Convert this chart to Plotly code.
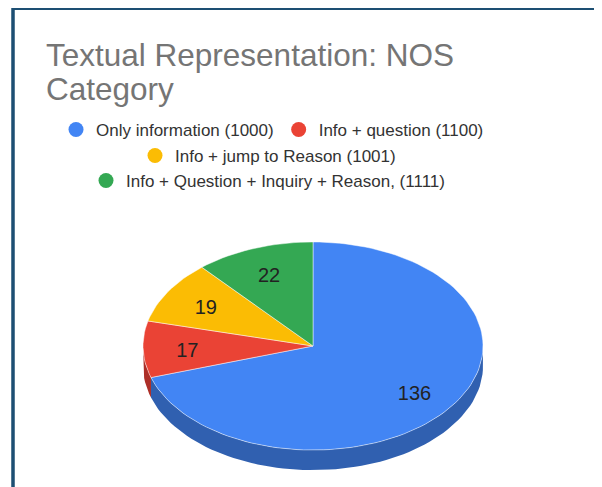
import numpy as np
import plotly.graph_objects as go

# ---- data ----
labels = [
    "Only information (1000)",
    "Info + question (1100)",
    "Info + jump to Reason (1001)",
    "Info + Question + Inquiry + Reason, (1111)",
]
values = [136, 17, 19, 22]
colors = ["#4285f4", "#ea4335", "#fbbc04", "#34a853"]
side_colors = ["#3060b0", "#ad2f28", "#b8890a", "#257a3c"]
legend_rows = ["legend", "legend", "legend2", "legend3"]
title_lines = ["Textual Representation: NOS", "Category"]

# ---- geometry / style constants (page has an 8px body offset) ----
TILT = 0.612      # vertical squash of the tilted disc
DEPTH = 0.118     # thickness of the disc
LABEL_R = 0.74    # radial position of value labels
LABEL_DROP = 0.018  # small downward nudge of labels
W, H = 602, 487
CX_PX, CY_PX, R_PX = 305, 338, 170
FONT = "Liberation Sans, Arial"

total = float(sum(values))
edges = np.concatenate([[0.0], np.cumsum(values)]) / total * 2 * np.pi


def arc(a0, a1, n=160):
    t = np.linspace(a0, a1, max(2, int(n * (a1 - a0) / (2 * np.pi)) + 2))
    return np.sin(t), TILT * np.cos(t)


fig = go.Figure()

# side walls (front half only: angles between pi/2 and 3pi/2)
for i in range(len(values)):
    a0, a1 = max(edges[i], np.pi / 2), min(edges[i + 1], 3 * np.pi / 2)
    if a1 <= a0:
        continue
    xt, yt = arc(a0, a1)
    xs = np.concatenate([xt, xt[::-1], xt[:1]])
    ys = np.concatenate([yt, yt[::-1] - DEPTH, yt[:1]])
    fig.add_trace(go.Scatter(x=xs, y=ys, mode="lines", fill="toself",
                             fillcolor=side_colors[i], line=dict(width=0, color=side_colors[i]),
                             hoverinfo="skip", showlegend=False))

# top faces
for i in range(len(values)):
    xt, yt = arc(edges[i], edges[i + 1])
    xs = np.concatenate([[0.0], xt, [0.0]])
    ys = np.concatenate([[0.0], yt, [0.0]])
    fig.add_trace(go.Scatter(x=xs, y=ys, mode="lines", fill="toself",
                             fillcolor=colors[i], line=dict(width=0.8, color="rgba(255,255,255,0.6)"),
                             hoverinfo="text", text=f"{labels[i]}: {values[i]}",
                             showlegend=False))

# value labels
mids = (edges[:-1] + edges[1:]) / 2
fig.add_trace(go.Scatter(x=LABEL_R * np.sin(mids),
                         y=LABEL_R * TILT * np.cos(mids) - LABEL_DROP,
                         mode="text", text=[str(v) for v in values],
                         textfont=dict(family=FONT, size=20, color="#222222"),
                         hoverinfo="skip", showlegend=False))

# legend entries (circle markers)
for i in range(len(values)):
    fig.add_trace(go.Scatter(x=[None], y=[None], mode="markers", name=labels[i],
                             marker=dict(symbol="circle", size=15, color=colors[i]),
                             legend=legend_rows[i], showlegend=True))

leg_common = dict(orientation="h", xanchor="center", yanchor="middle",
                  bgcolor="rgba(0,0,0,0)", itemwidth=30,
                  font=dict(family=FONT, size=17, color="#333333"))

fig.update_layout(
    width=W, height=H,
    margin=dict(l=0, r=0, t=0, b=0),
    paper_bgcolor="white", plot_bgcolor="white",
    xaxis=dict(range=[-CX_PX / R_PX, (W - CX_PX) / R_PX], visible=False, fixedrange=True),
    yaxis=dict(range=[-(H - CY_PX) / R_PX, CY_PX / R_PX], visible=False, fixedrange=True),
    legend=dict(x=0.4394, y=1 - 122 / H, **leg_common),
    legend2=dict(x=0.4319, y=1 - 148 / H, **leg_common),
    legend3=dict(x=0.4319, y=1 - 173 / H, **leg_common),
    annotations=[
        dict(text=title_lines[0], xref="paper", yref="paper", x=36 / W, y=1 - 47 / H,
             xanchor="left", yanchor="middle", showarrow=False,
             font=dict(family=FONT, size=31.5, color="#757575")),
        dict(text=title_lines[1], xref="paper", yref="paper", x=36 / W, y=1 - 81 / H,
             xanchor="left", yanchor="middle", showarrow=False,
             font=dict(family=FONT, size=31.5, color="#757575")),
    ],
    shapes=[
        dict(type="path", xref="paper", yref="paper",
             path=f"M {5/W} 0 L {5/W} {1 - 0.2/H} L 1 {1 - 0.2/H}",
             line=dict(color="#1d4f73", width=3.5)),
    ],
)

fig.write_html("out.html")
